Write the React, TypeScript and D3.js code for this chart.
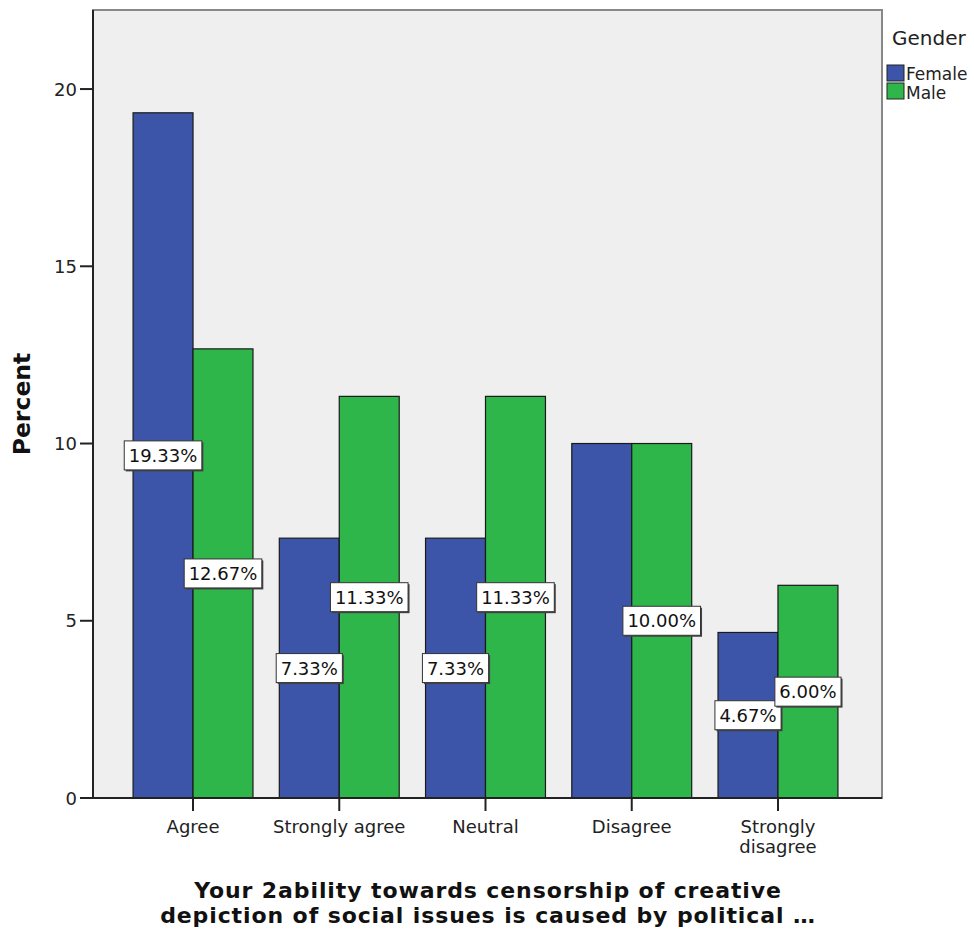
import React from "react";
import * as d3 from "d3";

const categories = ["Agree", "Strongly agree", "Neutral", "Disagree", "Strongly disagree"];
const categoryLines = [["Agree"], ["Strongly agree"], ["Neutral"], ["Disagree"], ["Strongly", "disagree"]];
const series = ["Female", "Male"];
const femaleValues = [19.33, 7.33, 7.33, 10.0, 4.67];
const maleValues = [12.67, 11.33, 11.33, 10.0, 6.0];
// SPSS hides the overlapping Female label for "Disagree"
const femaleLabelShown = [true, true, true, false, true];
const maleLabelShown = [true, true, true, true, true];
const yTicks = [0, 5, 10, 15, 20];
const colors = ["#3d55a9", "#2fb64a"];
const titleLines = ["Your 2ability towards censorship of creative", "depiction of social issues is caused by political \u2026"];

const W = 974, H = 933;
const left = 93, right = 882, top = 10, bottom = 798;

export default function App() {
  const x = d3.scaleBand<string>().domain(categories).range([left, right - 4]).paddingInner(0.18).paddingOuter(0.274);
  const xs = d3.scaleBand<string>().domain(series).range([0, x.bandwidth()]);
  const y = d3.scaleLinear().domain([0, 22.23]).range([bottom, top]);
  const vals = [femaleValues, maleValues];
  const shown = [femaleLabelShown, maleLabelShown];
  const font = "'DejaVu Sans', Verdana, sans-serif";
  const fs = 18;

  const bars: any[] = [];
  const labels: any[] = [];
  categories.forEach((c, i) => {
    series.forEach((s, j) => {
      const v = vals[j][i];
      const bx = (x(c) as number) + (xs(s) as number);
      const bw = xs.bandwidth();
      bars.push(
        <rect key={`b${i}${j}`} x={bx} y={y(v)} width={bw} height={y(0) - y(v)} fill={colors[j]} stroke="#1a1a1a" strokeWidth={1.2} />
      );
      if (!shown[j][i]) return;
      const cx = bx + bw / 2;
      const cy = y(v / 2);
      const txt = v.toFixed(2) + "%";
      const nd = txt.replace(/[^0-9]/g, "").length;
      const bwid = (nd * 0.636 + 0.318 + 0.95) * fs + 9;
      const bh = 29;
      labels.push(
        <g key={`l${i}${j}`}>
          <rect x={cx - bwid / 2 + 1.5} y={cy - bh / 2 + 1.5} width={bwid} height={bh} fill="#444" />
          <rect x={cx - bwid / 2} y={cy - bh / 2} width={bwid} height={bh} fill="#fff" stroke="#333" strokeWidth={1} />
          <text x={cx} y={cy + 6.5} textAnchor="middle" fontSize={fs} fontFamily={font} fill="#111">{txt}</text>
        </g>
      );
    });
  });

  return (
    <svg width={W} height={H} style={{ position: "absolute", left: 0, top: 0, background: "#fff" }}>
      <rect x={left} y={top} width={right - left} height={bottom - top} fill="#efefef" stroke="#888" strokeWidth={2} />
      {bars}
      <line x1={left} x2={left} y1={top} y2={bottom} stroke="#222" strokeWidth={2} />
      <line x1={left} x2={right} y1={bottom} y2={bottom} stroke="#222" strokeWidth={2} />
      {yTicks.map((t) => (
        <g key={t}>
          <line x1={left - 13} x2={left} y1={y(t)} y2={y(t)} stroke="#222" strokeWidth={2} />
          <text x={left - 16} y={y(t) + 6.5} textAnchor="end" fontSize={fs} fontFamily={font} fill="#222">{t}</text>
        </g>
      ))}
      {categories.map((c, i) => {
        const cx = (x(c) as number) + x.bandwidth() / 2;
        return (
          <g key={c}>
            <line x1={cx} x2={cx} y1={bottom} y2={bottom + 13} stroke="#222" strokeWidth={2} />
            {categoryLines[i].map((ln, k) => (
              <text key={k} x={cx} y={833 + k * 20} textAnchor="middle" fontSize={fs} fontFamily={font} fill="#222">{ln}</text>
            ))}
          </g>
        );
      })}
      {labels}
      <text transform={`translate(30,404) rotate(-90)`} textAnchor="middle" fontSize={23.5} fontWeight="bold" fontFamily={font} fill="#111">Percent</text>
      {titleLines.map((t, k) => (
        <text key={k} x={488} y={898 + k * 25} textAnchor="middle" fontSize={22} letterSpacing={0.9} fontWeight="bold" fontFamily={font} fill="#111">{t}</text>
      ))}
      <text x={892} y={45} fontSize={20} fontFamily={font} fill="#222">Gender</text>
      {series.map((s, j) => (
        <g key={s}>
          <rect x={887} y={65 + j * 18} width={17} height={16} fill={colors[j]} stroke="#222" strokeWidth={1} />
          <text x={906} y={80 + j * 19} fontSize={17} fontFamily={font} fill="#222">{s}</text>
        </g>
      ))}
    </svg>
  );
}
